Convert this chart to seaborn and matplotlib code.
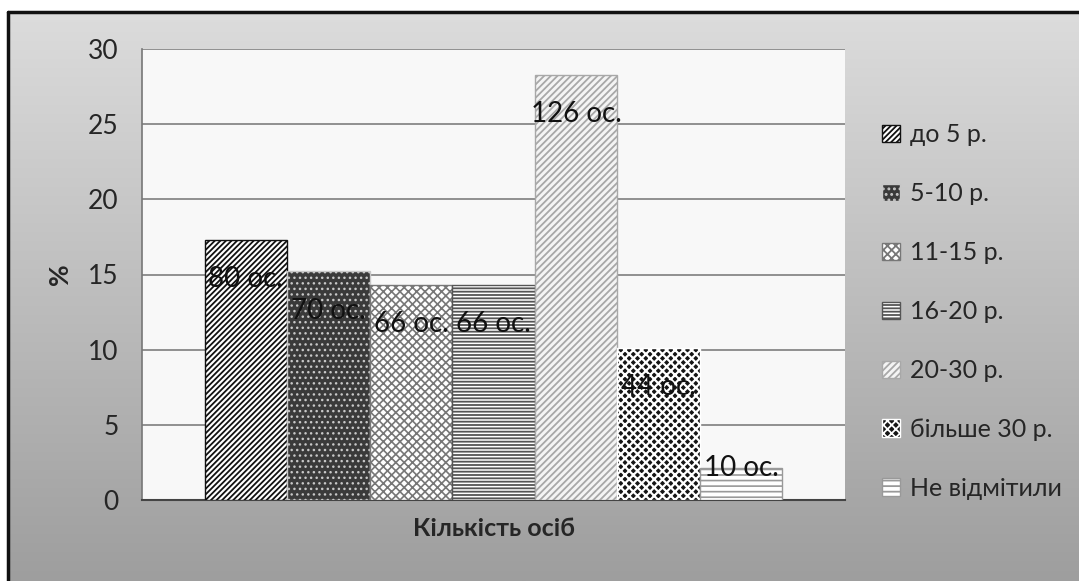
import numpy as np
import pandas as pd
import matplotlib
matplotlib.use('Agg')
import matplotlib.pyplot as plt
from matplotlib.lines import Line2D
import seaborn as sns

# дані
groups = ['до 5 р.', '5-10 р.', '11-15 р.', '16-20 р.', '20-30 р.', 'більше 30 р.', 'Не відмітили']
pct = [17.3, 15.2, 14.3, 14.3, 28.3, 10.1, 2.1]
counts = [80, 70, 66, 66, 126, 44, 10]
category = 'Кількість осіб'
y_ticks = [0, 5, 10, 15, 20, 25, 30]

# стилі штрихування: (заливка, штрих, колір штриха, товщина штриха)
styles = [
    ('#ffffff', '//////', '#111111', 1.3),
    ('#3a3a3a', '...', '#c8c8c8', 1.0),
    ('#ffffff', 'xxxx', '#777777', 1.2),
    ('#ffffff', '-----', '#555555', 1.3),
    ('#f4f4f4', '/////', '#a8a8a8', 1.3),
    ('#151515', 'xxxx', '#ffffff', 1.6),
    ('#ffffff', '---', '#999999', 1.2),
]

sns.set_style('white')
plt.rcParams['font.family'] = ['Lato', 'DejaVu Sans']
plt.rcParams['hatch.linewidth'] = 1.3

df = pd.DataFrame({'cat': [category] * len(groups), 'group': groups, 'pct': pct})

fig = plt.figure(figsize=(10.79, 5.81), dpi=100)
fig.patch.set_facecolor('white')

# фон із градієнтом і рамкою
bg = fig.add_axes([8 / 1079, 0, 1 - 8 / 1079, 1 - 12 / 581], zorder=-5)
grad = np.linspace(0, 1, 256).reshape(-1, 1)
bg.imshow(grad, aspect='auto', cmap=matplotlib.colors.LinearSegmentedColormap.from_list('g', ['#dcdcdc', '#9e9e9e']),
          extent=[0, 1, 0, 1], origin='upper')
bg.axis('off')
fig.add_artist(Line2D([8 / 1079, 8 / 1079], [0, 1 - 12 / 581], color='#111111', lw=2.5, transform=fig.transFigure))
fig.add_artist(Line2D([8 / 1079, 1], [1 - 12 / 581, 1 - 12 / 581], color='#111111', lw=2.5, transform=fig.transFigure))

ax = fig.add_axes([142 / 1079, 1 - 500 / 581, (845 - 142) / 1079, 451 / 581])
ax.set_facecolor('#f8f8f8')

sns.barplot(data=df, x='cat', y='pct', hue='group', hue_order=groups, palette=[s[0] for s in styles],
            width=0.822, saturation=1, legend=False, ax=ax, zorder=3)

for cont, (fc, hatch, hc, hlw), n in zip(ax.containers, styles, counts):
    for bar in cont.patches:
        bar.set_facecolor(fc)
        bar.set_hatch(hatch)
        if hasattr(bar, 'set_hatchcolor'):
            bar.set_hatchcolor(hc)
            bar.set_edgecolor('#333333')
        else:
            bar.set_edgecolor(hc)
        if hasattr(bar, 'set_hatch_linewidth'):
            bar.set_hatch_linewidth(hlw)
        bar.set_linewidth(1.0)
        x = bar.get_x() + bar.get_width() / 2
        h = bar.get_height()
        ty = h - 2.6 if h > 5 else h
        ax.text(x, ty, f'{n} ос.', ha='center', va='center', fontsize=20, color='#111111', zorder=5)

ax.set_ylim(0, 30)
ax.set_yticks(y_ticks)
ax.yaxis.grid(True, color='#888888', linewidth=1.3, zorder=0)
ax.set_axisbelow(True)
ax.tick_params(axis='y', direction='out', length=7, width=1.2, color='#777777', labelsize=19, pad=10)
ax.tick_params(axis='x', length=0, labelsize=18, pad=12)
for lbl in ax.get_xticklabels():
    lbl.set_fontweight('bold')
ax.set_xlabel('')
ax.set_ylabel('%', fontsize=19, fontweight='bold')
ax.yaxis.set_label_coords(-0.10, 0.5)
for side in ['top', 'right']:
    ax.spines[side].set_visible(False)
ax.spines['left'].set_color('#777777')
ax.spines['bottom'].set_color('#444444')
ax.spines['left'].set_linewidth(1.2)
ax.spines['bottom'].set_linewidth(1.5)

handles = [c.patches[0] for c in ax.containers]
fig.legend(handles, groups, loc='upper left', bbox_to_anchor=(872 / 1079, 1 - 113 / 581),
           frameon=False, fontsize=18, handlelength=0.7, handleheight=0.7, handletextpad=0.4,
           labelspacing=1.44, borderaxespad=0)

fig.savefig('out.png', dpi=100)
